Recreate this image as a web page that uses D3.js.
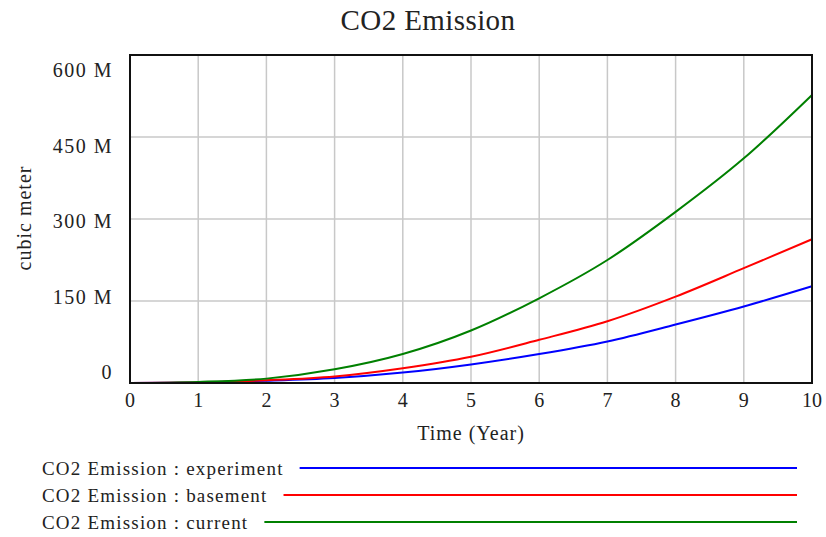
<!DOCTYPE html>
<html><head><meta charset="utf-8">
<script src="https://cdn.jsdelivr.net/npm/d3@7"></script>
<style>body{margin:0;background:#fff}svg text{font-family:"Liberation Serif","Times New Roman",serif;fill:#222}</style>
</head><body><svg id="c" width="826" height="537"></svg>
<script>
const years = [0,1,2,3,4,5,6,7,8,9,10];
const experiment = [0,1,4,9,19,34,53,76,107,140,177];
const basement   = [0,1,5,12,27,48,79,113,158,210,263];
const current    = [0,2,8,25,53,96,155,225,313,411,527];
const yTicks = [0,150,300,450,600];
const yTickLabels = ["0","150 M","300 M","450 M","600 M"];
const seriesNames = ["CO2 Emission : experiment","CO2 Emission : basement","CO2 Emission : current"];
const seriesColors = ["#0000ff","#ff0000","#008000"];
const seriesData = [experiment, basement, current];

const svg = d3.select("#c");
const L=130,R=812,T=55,B=383;
const x = d3.scaleLinear().domain([0,10]).range([L,R]);
const y = d3.scaleLinear().domain([0,600]).range([B,T]);
const yLab = d3.scaleLinear().domain([0,600]).range([372,70]);

svg.append("text").attr("x",428).attr("y",30).attr("text-anchor","middle")
  .style("font-size","29px").style("letter-spacing","0.4px").text("CO2 Emission");

// grid
const g = svg.append("g");
g.selectAll("line.vx").data(years.slice(1,-1)).join("line")
  .attr("x1",d=>x(d)).attr("x2",d=>x(d)).attr("y1",T).attr("y2",B)
  .attr("stroke","#c8c8c8").attr("stroke-width",1.5);
g.selectAll("line.hy").data(yTicks.slice(1,-1)).join("line")
  .attr("y1",d=>y(d)).attr("y2",d=>y(d)).attr("x1",L).attr("x2",R)
  .attr("stroke","#c8c8c8").attr("stroke-width",1.5);

// tick labels
svg.selectAll("text.yt").data(yTicks).join("text")
  .attr("x",113).attr("y",d=>yLab(d)).attr("dy","0.35em").attr("text-anchor","end")
  .style("font-size","20px").style("letter-spacing","1.5px").text((d,i)=>yTickLabels[i]);
svg.selectAll("text.xt").data(years).join("text")
  .attr("x",d=>x(d)).attr("y",407).attr("text-anchor","middle")
  .style("font-size","20px").text(d=>d);

svg.append("text").attr("x",471).attr("y",440).attr("text-anchor","middle")
  .style("font-size","20px").style("letter-spacing","1px").text("Time (Year)");
svg.append("text").attr("transform","translate(31,218) rotate(-90)").attr("text-anchor","middle")
  .style("font-size","20px").style("letter-spacing","1px").text("cubic meter");

// lines
const line = d3.line().x((d,i)=>x(years[i])).y(d=>y(d)).curve(d3.curveMonotoneX);
svg.selectAll("path.s").data(seriesData).join("path")
  .attr("d",line).attr("fill","none")
  .attr("stroke",(d,i)=>seriesColors[i]).attr("stroke-width",2);

// frame
svg.append("rect").attr("x",L).attr("y",T).attr("width",R-L).attr("height",B-T)
  .attr("fill","none").attr("stroke","#111").attr("stroke-width",2);

// legend
const legY = [468,495,522];
seriesNames.forEach((n,i)=>{
  const t = svg.append("text").attr("x",42).attr("y",legY[i]).attr("dy","0.35em")
    .style("font-size","19px").style("letter-spacing","1.2px").text(n);
  const w = t.node().getComputedTextLength();
  svg.append("line").attr("x1",42+w+16).attr("x2",797).attr("y1",legY[i]).attr("y2",legY[i])
    .attr("stroke",seriesColors[i]).attr("stroke-width",2);
});
</script></body></html>
